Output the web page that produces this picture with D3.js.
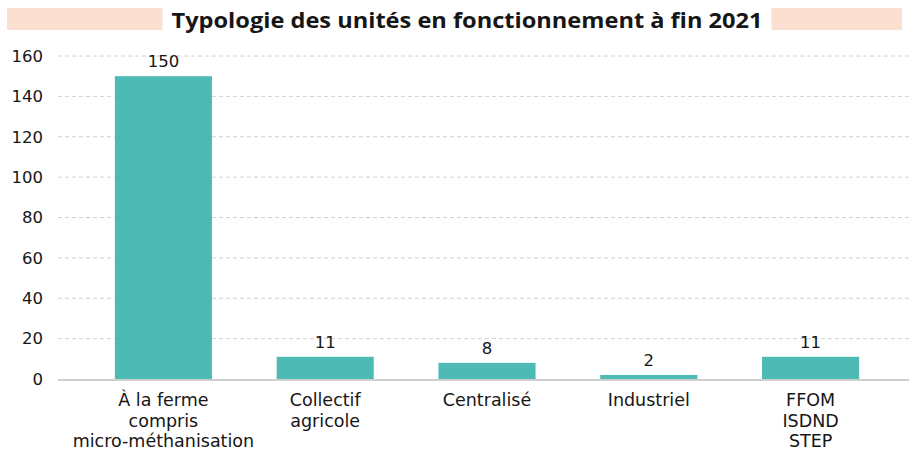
<!DOCTYPE html>
<html>
<head>
<meta charset="utf-8">
<script src="https://cdn.jsdelivr.net/npm/d3@7"></script>
<style>
  body { margin: 0; background: #fff; }
  svg { display: block; font-family: "DejaVu Sans", sans-serif; }
</style>
</head>
<body>
<svg id="chart" width="909" height="453"></svg>
<script>
// données
const categories = [
  ["À la ferme", "compris", "micro-méthanisation"],
  ["Collectif", "agricole"],
  ["Centralisé"],
  ["Industriel"],
  ["FFOM", "ISDND", "STEP"]
];
const values = [150, 11, 8, 2, 11];
const yTicks = [0, 20, 40, 60, 80, 100, 120, 140, 160];
const title = "Typologie des unités en fonctionnement à fin 2021";

const svg = d3.select("#chart");
const W = 909;
const FS = 16.5;
const FS_CAT = 17.5;

const x = d3.scaleBand()
  .domain(d3.range(values.length))
  .range([82.5, 891.5])
  .paddingInner(0.4)
  .paddingOuter(0.2);

const y = d3.scaleLinear().domain([0, 160]).range([379, 56]);

// bandeau du titre
svg.append("rect")
  .attr("x", 7).attr("y", 8).attr("width", 895).attr("height", 22)
  .attr("fill", "#fbdfd1");
const titleText = svg.append("text")
  .attr("x", 467).attr("y", 28)
  .attr("text-anchor", "middle")
  .attr("font-family", "'Open Sans', sans-serif")
  .attr("font-weight", "bold")
  .attr("font-size", 22)
  .attr("textLength", 591)
  .attr("lengthAdjust", "spacingAndGlyphs")
  .attr("fill", "#161616")
  .text(title);
const bb = titleText.node().getBBox();
svg.insert("rect", "text")
  .attr("x", bb.x - 9).attr("y", 5).attr("width", bb.width + 18).attr("height", 30)
  .attr("fill", "#fff");

// grille
svg.append("g").selectAll("line")
  .data(yTicks.filter(d => d > 0))
  .join("line")
  .attr("x1", 58).attr("x2", W)
  .attr("y1", d => y(d)).attr("y2", d => y(d))
  .attr("stroke", "#d0d0d0")
  .attr("stroke-dasharray", "4,3");

// axe y
const yAxis = d3.axisLeft(y).tickValues(yTicks).tickSize(0).tickPadding(0);
svg.append("g")
  .attr("transform", "translate(43,0)")
  .call(yAxis)
  .call(g => g.select(".domain").remove())
  .selectAll("text")
  .attr("font-size", FS)
  .attr("font-family", "'DejaVu Sans', sans-serif")
  .attr("fill", "#161616");

// barres
svg.append("g").selectAll("rect")
  .data(values)
  .join("rect")
  .attr("x", (d, i) => x(i))
  .attr("y", d => y(d))
  .attr("width", x.bandwidth())
  .attr("height", d => y(0) - y(d))
  .attr("fill", "#4dbab6");

// ligne de base
svg.append("line")
  .attr("x1", 58).attr("x2", W)
  .attr("y1", y(0) + 1).attr("y2", y(0) + 1)
  .attr("stroke", "#cfcfcf")
  .attr("stroke-width", 2);

// étiquettes de valeur
svg.append("g").selectAll("text")
  .data(values)
  .join("text")
  .attr("x", (d, i) => x(i) + x.bandwidth() / 2)
  .attr("y", d => y(d) - 9)
  .attr("text-anchor", "middle")
  .attr("font-size", FS)
  .attr("fill", "#161616")
  .text(d => d);

// étiquettes de catégorie
const cat = svg.append("g").selectAll("text")
  .data(categories)
  .join("text")
  .attr("text-anchor", "middle")
  .attr("font-size", FS_CAT)
  .attr("fill", "#161616");
cat.selectAll("tspan")
  .data((d, i) => d.map(t => ({ t, i })))
  .join("tspan")
  .attr("x", d => x(d.i) + x.bandwidth() / 2)
  .attr("y", (d, j) => 406 + j * 20.5)
  .text(d => d.t);
</script>
</body>
</html>
